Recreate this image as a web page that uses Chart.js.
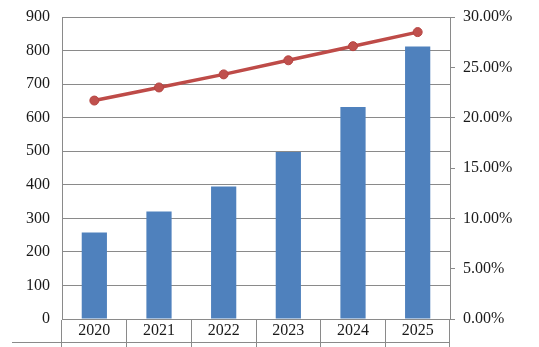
<!DOCTYPE html>
<html>
<head>
<meta charset="utf-8">
<script src="https://cdn.jsdelivr.net/npm/chart.js@4.4.1/dist/chart.umd.min.js"></script>
<style>
  html, body { margin: 0; padding: 0; background: #ffffff; }
  #wrap { width: 539px; height: 347px; }
</style>
</head>
<body>
<div id="wrap"><canvas id="chart" width="539" height="347"></canvas></div>
<script>
// Yearly volume (bars, left axis) and growth rate in percent (line, right axis)
const years = ['2020', '2021', '2022', '2023', '2024', '2025'];
const volumes = [258, 320, 395, 498, 632, 812];
const growthPct = [21.7, 23.0, 24.3, 25.7, 27.1, 28.5];

const leftTicks = { min: 0, max: 900, step: 100 };
const rightTicks = { min: 0, max: 30, step: 5 };

const gridGray = '#8a8a8a';
const textColor = '#1a1a1a';
const serif = { family: '"Liberation Serif", "Times New Roman", serif', size: 16 };

// Horizontal rule under the category row, spanning from the key column to the right axis
const tableRule = {
  id: 'tableRule',
  afterDraw(chart) {
    const ctx = chart.ctx;
    const xs = chart.scales.x;
    const y = Math.round(xs.top + 23) + 0.5;
    ctx.save();
    ctx.strokeStyle = gridGray;
    ctx.lineWidth = 1;
    ctx.beginPath();
    ctx.moveTo(12, y);
    ctx.lineTo(chart.chartArea.right, y);
    ctx.stroke();
    ctx.restore();
  }
};

// Value axes: fixed width, no extra vertical padding for end labels
function fixAxis(width) {
  return s => { s.width = width; s.paddingTop = 0; s.paddingBottom = 0; };
}

new Chart(document.getElementById('chart'), {
  data: {
    labels: years,
    datasets: [
      {
        type: 'line',
        data: growthPct,
        yAxisID: 'y1',
        borderColor: '#be4b48',
        backgroundColor: '#be4b48',
        borderWidth: 3.5,
        pointRadius: 4.5,
        pointBorderWidth: 1,
        pointBorderColor: '#b54441',
        pointBackgroundColor: '#c0504d',
        tension: 0,
        order: 0
      },
      {
        type: 'bar',
        data: volumes,
        yAxisID: 'y',
        backgroundColor: '#4f81bd',
        borderWidth: 0,
        barPercentage: 0.39,
        categoryPercentage: 1,
        order: 1
      }
    ]
  },
  options: {
    responsive: false,
    animation: false,
    layout: { padding: { top: 17, right: 0, bottom: 0, left: 0 } },
    plugins: { legend: { display: false }, tooltip: { enabled: false } },
    scales: {
      x: {
        offset: true,
        grid: {
          offset: true,
          drawOnChartArea: false,
          drawTicks: true,
          tickLength: 28,
          color: gridGray
        },
        border: { display: true, color: gridGray },
        ticks: { color: textColor, font: serif, padding: -26, maxRotation: 0 },
        afterFit(s) { s.height = 28; s.paddingLeft = 0; s.paddingRight = 0; }
      },
      y: {
        position: 'left',
        min: leftTicks.min,
        max: leftTicks.max,
        ticks: { stepSize: leftTicks.step, color: textColor, font: serif, padding: 12 },
        grid: { color: gridGray, drawTicks: false },
        border: { display: true, color: gridGray },
        afterFit: fixAxis(62)
      },
      y1: {
        position: 'right',
        min: rightTicks.min,
        max: rightTicks.max,
        ticks: {
          stepSize: rightTicks.step,
          color: textColor,
          font: serif,
          padding: 8,
          callback: v => v.toFixed(2) + '%'
        },
        grid: { drawOnChartArea: false, drawTicks: true, tickLength: 5, color: gridGray },
        border: { display: true, color: gridGray },
        afterFit: fixAxis(89)
      }
    }
  },
  plugins: [tableRule]
});
</script>
</body>
</html>
